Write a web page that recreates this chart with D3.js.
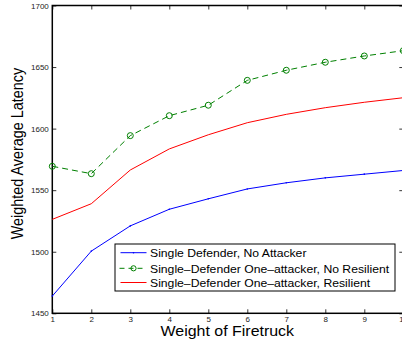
<!DOCTYPE html>
<html><head><meta charset="utf-8">
<script src="https://cdn.jsdelivr.net/npm/d3@7"></script>
<style>body{margin:0;background:#fff}svg{display:block}text{font-family:"Liberation Sans",Arial,sans-serif}</style>
</head><body>
<svg id="c" width="402" height="347"></svg>
<script>
const weights = [1,2,3,4,5,6,7,8,9,10];
const noAttacker = [1464,1500.5,1521,1534.5,1543,1551,1556,1560,1563,1566];
const noResilient = [1569.4,1563.4,1594.3,1610.5,1619,1639.2,1647.4,1653.9,1659,1663.3];
const resilient = [1526.3,1539,1566.4,1583.5,1595,1604.8,1611.6,1617,1621.4,1625.1];
const yTicks = [1450,1500,1550,1600,1650,1700];
const seriesNames = ["Single Defender, No Attacker","Single\u2013Defender One\u2013attacker, No Resilient","Single\u2013Defender One\u2013attacker, Resilient"];

const svg = d3.select("#c");
const L=52.3, R=403.3, T=5.5, B=313.3;
const x = d3.scaleLinear().domain([1,10]).range([L,R]);
const y = d3.scaleLinear().domain([1450,1700]).range([B,T]);

const g = svg.append("g");
const ax = g.append("g").attr("transform",`translate(0,${B})`).call(d3.axisBottom(x).tickValues(weights).tickSize(-4).tickPadding(3).tickFormat(d3.format("d")));
const ay = g.append("g").attr("transform",`translate(${L},0)`).call(d3.axisLeft(y).tickValues(yTicks).tickSize(-4).tickPadding(3.5).tickFormat(d3.format("d")));
const axT = g.append("g").attr("transform",`translate(0,${T})`).call(d3.axisTop(x).tickValues(weights).tickSize(-4).tickFormat(""));
const ayR = g.append("g").attr("transform",`translate(${R},0)`).call(d3.axisRight(y).tickValues(yTicks).tickSize(-4).tickFormat(""));
[ax,ay,axT,ayR].forEach(a=>{a.select(".domain").remove();a.selectAll("line").attr("stroke","#000").attr("stroke-width",0.8);a.selectAll("text").attr("font-size",8).attr("fill","#222").attr("font-family","Liberation Sans, Arial, sans-serif");});
g.append("rect").attr("x",L).attr("y",T).attr("width",R-L).attr("height",B-T).attr("fill","none").attr("stroke","#000").attr("stroke-width",1.5);

const line = d3.line().x((d,i)=>x(weights[i])).y(d=>y(d));
g.append("path").datum(noAttacker).attr("d",line).attr("fill","none").attr("stroke","#0000ff").attr("stroke-width",1);
g.selectAll(".bd").data(noAttacker).join("circle").attr("cx",(d,i)=>x(weights[i])).attr("cy",d=>y(d)).attr("r",0.8).attr("fill","#0000ff");
g.append("path").datum(resilient).attr("d",line).attr("fill","none").attr("stroke","#ff0000").attr("stroke-width",1);
g.append("path").datum(noResilient).attr("d",line).attr("fill","none").attr("stroke","#008000").attr("stroke-width",1).attr("stroke-dasharray","6,4");
g.selectAll(".gc").data(noResilient).join("circle").attr("cx",(d,i)=>x(weights[i])).attr("cy",d=>y(d)).attr("r",3).attr("fill","none").attr("stroke","#008000").attr("stroke-width",1);

// labels (the reference is stretched horizontally)
svg.append("text").attr("transform",`translate(${(L+R)/2-0.5},335.5) scale(1.14,1)`).attr("text-anchor","middle").attr("font-size",14).text("Weight of Firetruck");
svg.append("text").attr("transform","translate(23,153.5) scale(1.2,1) rotate(-90)").attr("text-anchor","middle").attr("font-size",14.4).text("Weighted Average Latency");

// legend
const lg = svg.append("g");
lg.append("rect").attr("x",115).attr("y",244).attr("width",280).attr("height",47).attr("fill","#fff").attr("stroke","#000").attr("stroke-width",1);
const rows=[252.7,268.3,282.5];
const cols=["#0000ff","#008000","#ff0000"];
rows.forEach((ry,i)=>{
  const l=lg.append("line").attr("x1",120.5).attr("x2",146.5).attr("y1",ry).attr("y2",ry).attr("stroke",cols[i]).attr("stroke-width",1);
  if(i===1) l.attr("stroke-dasharray","5,4").attr("x1",119.5);
  if(i===0) lg.append("circle").attr("cx",133.5).attr("cy",ry).attr("r",0.8).attr("fill",cols[i]);
  if(i===1) lg.append("circle").attr("cx",133.5).attr("cy",ry).attr("r",2.6).attr("fill","none").attr("stroke",cols[i]);
  lg.append("text").attr("transform",`translate(150,${ry+4.3}) scale(1.06,1)`).attr("font-size",11.5).text(seriesNames[i]);
});
</script>
</body></html>
